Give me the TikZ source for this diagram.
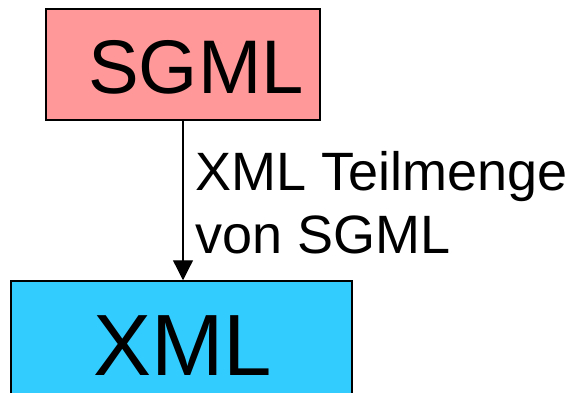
\documentclass[tikz,border=0pt]{standalone}
\usepackage{fontspec}
\setmainfont{Liberation Sans}
\usetikzlibrary{arrows.meta}
\definecolor{sgmlpink}{HTML}{FF9999}
\definecolor{xmlcyan}{HTML}{33CCFF}
\begin{document}
\begin{tikzpicture}[x=1pt,y=1pt,
  box/.style={draw=black, line width=1.5pt, inner sep=0pt, minimum width=#1},
  label/.style={inner sep=0pt, anchor=base west}]
  \useasboundingbox (0,0) rectangle (573,392);
  \clip (0,0) rectangle (573,392);
  % upper box
  \node[box=274pt, minimum height=111pt, fill=sgmlpink] (sgml) at (183,327.5) {};
  \node[label, font=\fontsize{76}{76}\selectfont] (sgmltext) at (88,299) {SGML};
  % lower box, running past the bottom edge
  \node[box=341pt, minimum height=140pt, fill=xmlcyan] (xml) at (181.5,41) {};
  \node[label, font=\fontsize{87}{87}\selectfont] (xmltext) at (93,17) {XML};
  % connector and its label
  \draw[line width=1.3pt, -{Triangle[width=20pt,length=20pt]}] (sgml.south) -- (sgml.south |- xml.north);
  \node[label, font=\fontsize{54}{63}\selectfont] (note) at (195,202) {XML Teilmenge};
  \node[label, font=\fontsize{54}{63}\selectfont] (note2) at (195,139) {von SGML};
\end{tikzpicture}
\end{document}
